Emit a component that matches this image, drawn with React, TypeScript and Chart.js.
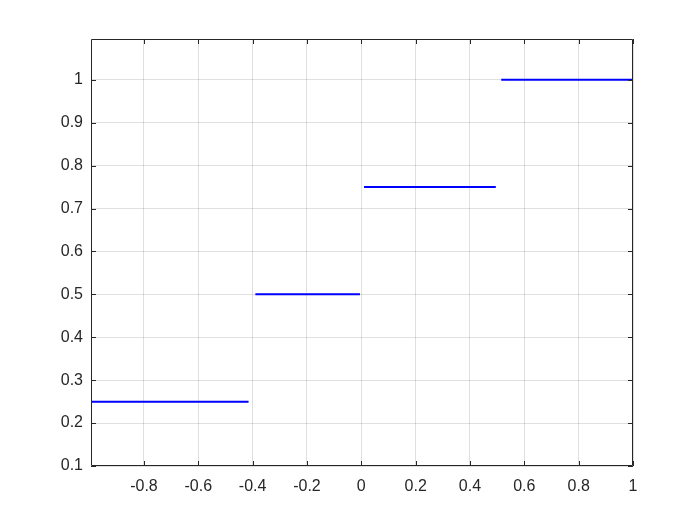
import React, { useEffect, useRef } from "react";
import { Chart, registerables } from "chart.js";

Chart.register(...registerables);

const segStart = [-1, -0.39, 0.01, 0.515];
const segEnd = [-0.415, -0.005, 0.495, 1];
const levels = [0.25, 0.5, 0.75, 1];
const xTicks = [-0.8, -0.6, -0.4, -0.2, 0, 0.2, 0.4, 0.6, 0.8, 1];
const yTicks = [0.1, 0.2, 0.3, 0.4, 0.5, 0.6, 0.7, 0.8, 0.9, 1];

const fmt = (v: number) => String(Number(v.toFixed(2)));

const framePlugin = {
  id: "frame",
  afterDraw(chart: any) {
    const { ctx, chartArea, scales } = chart;
    const { left, right, top, bottom } = chartArea;
    ctx.save();
    ctx.strokeStyle = "#262626";
    ctx.lineWidth = 1;
    ctx.beginPath();
    ctx.rect(left + 0.5, top + 0.5, right - left - 1, bottom - top - 1);
    ctx.stroke();
    const tl = 5;
    ctx.beginPath();
    for (const v of xTicks) {
      const px = Math.round(scales.x.getPixelForValue(v)) + 0.5;
      ctx.moveTo(px, bottom);
      ctx.lineTo(px, bottom - tl);
      ctx.moveTo(px, top);
      ctx.lineTo(px, top + tl);
    }
    for (const v of yTicks) {
      const py = Math.round(scales.y.getPixelForValue(v)) + 0.5;
      ctx.moveTo(left, py);
      ctx.lineTo(left + tl, py);
      ctx.moveTo(right, py);
      ctx.lineTo(right - tl, py);
    }
    ctx.stroke();
    ctx.restore();
  },
};

export default function App() {
  const ref = useRef<HTMLCanvasElement>(null);
  useEffect(() => {
    const pts: any[] = [];
    segStart.forEach((s, i) => {
      pts.push({ x: s, y: levels[i] });
      pts.push({ x: segEnd[i], y: levels[i] });
      if (i < segStart.length - 1) pts.push({ x: (segEnd[i] + segStart[i + 1]) / 2, y: null });
    });
    const font = { family: "Liberation Sans, Arial, sans-serif", size: 16 };
    const chart = new Chart(ref.current!, {
      type: "scatter",
      data: {
        datasets: [
          {
            data: pts,
            showLine: true,
            spanGaps: false,
            borderColor: "#0000ff",
            borderWidth: 2,
            pointRadius: 0,
            fill: false,
          },
        ],
      },
      plugins: [framePlugin],
      options: {
        animation: false,
        responsive: false,
        maintainAspectRatio: false,
        layout: { padding: { left: 0, top: 39, right: 67, bottom: 0 } },
        plugins: { legend: { display: false }, tooltip: { enabled: false } },
        scales: {
          x: {
            type: "linear",
            min: -0.995,
            max: 1,
            afterBuildTicks: (s: any) => {
              s.ticks = xTicks.map((v) => ({ value: v }));
            },
            afterFit: (s: any) => {
              s.height = 59;
            },
            grid: { color: "rgba(38,38,38,0.15)", drawTicks: false },
            border: { display: false },
            ticks: {
              padding: 11,
              color: "#262626",
              font,
              maxRotation: 0,
              autoSkip: false,
              callback: (v: any) => fmt(Number(v)),
            },
          },
          y: {
            type: "linear",
            min: 0.1,
            max: 1.095,
            afterBuildTicks: (s: any) => {
              s.ticks = yTicks.map((v) => ({ value: v }));
            },
            afterFit: (s: any) => {
              s.width = 91;
            },
            grid: { color: "rgba(38,38,38,0.15)", drawTicks: false },
            border: { display: false },
            ticks: {
              padding: 8,
              color: "#262626",
              font,
              autoSkip: false,
              callback: (v: any) => fmt(Number(v)),
            },
          },
        },
      },
    });
    return () => chart.destroy();
  }, []);
  return (
    <div style={{ position: "fixed", left: 0, top: 0, width: 700, height: 525, background: "#fff" }}>
      <canvas ref={ref} width={700} height={525} style={{ width: 700, height: 525 }} />
    </div>
  );
}
